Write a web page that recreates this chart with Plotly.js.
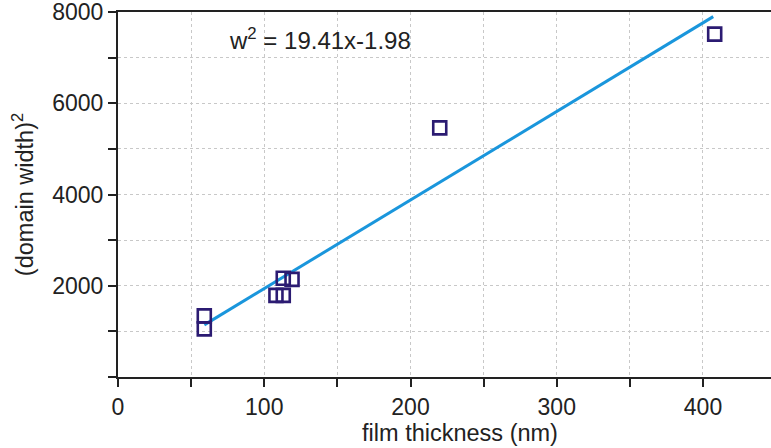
<!DOCTYPE html>
<html>
<head>
<meta charset="utf-8">
<script src="https://cdn.plot.ly/plotly-3.0.1.min.js"></script>
<style>
html,body{margin:0;padding:0;overflow:hidden;background:#fff;}
#chart{width:802px;height:448px;}
</style>
</head>
<body>
<div id="chart"></div>
<script>
// Data
const thickness = [59, 59, 108, 113, 113, 119, 220, 408];
const widthSq = [1340, 1055, 1790, 1790, 2165, 2140, 5460, 7515];
const fitX = [59, 407];
const fitY = [1143, 7898];
const xTickVals = [0, 100, 200, 300, 400];
const xTickText = ['0', '100', '200', '300', '400'];
const yTickVals = [0, 2000, 4000, 6000, 8000];
const yTickText = ['', '2000', '4000', '6000', '8000'];
const fitLabel = 'w<sup>2</sup> = 19.41x-1.98';

const font = 'Liberation Sans, Arial, sans-serif';
const textColor = '#222222';

const traces = [
  {
    x: fitX, y: fitY, type: 'scatter', mode: 'lines',
    line: {color: '#1a96dc', width: 3},
    hoverinfo: 'skip', showlegend: false
  },
  {
    x: thickness, y: widthSq, type: 'scatter', mode: 'markers',
    marker: {symbol: 'square-open', size: 13, color: '#2b1b72', line: {width: 2.6, color: '#2b1b72'}},
    showlegend: false
  }
];

const gridStyle = {gridcolor: '#c8c8c8', gridwidth: 1, griddash: 'dot'};

const layout = {
  width: 802, height: 448,
  margin: {l: 118, r: 0, t: 12, b: 71},
  paper_bgcolor: '#ffffff', plot_bgcolor: '#ffffff',
  font: {family: font, color: textColor, size: 23},
  showlegend: false,
  xaxis: Object.assign({
    range: [0, 467.7],
    tickmode: 'array', tickvals: xTickVals, ticktext: xTickText,
    ticks: 'outside', ticklen: 8, tickwidth: 2, tickcolor: '#222',
    showline: true, linecolor: '#222', linewidth: 2, mirror: true,
    showgrid: true, zeroline: false,
    ticklabeloverflow: 'allow',
    tickfont: {size: 23, color: textColor, family: font},
    minor: {dtick: 50, ticks: 'outside', ticklen: 8, tickwidth: 2, tickcolor: '#222', showgrid: true, gridcolor: '#c8c8c8', griddash: 'dot', gridwidth: 1},
    title: {text: 'film thickness (nm)', font: {size: 23.5, color: textColor, family: font}, standoff: 6}
  }, gridStyle),
  yaxis: Object.assign({
    range: [0, 8000],
    tickmode: 'array', tickvals: yTickVals, ticktext: yTickText,
    ticks: 'outside', ticklen: 8, tickwidth: 2, tickcolor: '#222',
    showline: true, linecolor: '#222', linewidth: 2, mirror: false,
    showgrid: true, zeroline: false,
    ticklabeloverflow: 'allow',
    tickfont: {size: 23, color: textColor, family: font},
    minor: {dtick: 1000, ticks: 'outside', ticklen: 8, tickwidth: 2, tickcolor: '#222', showgrid: true, gridcolor: '#c8c8c8', griddash: 'dot', gridwidth: 1},
    title: {text: '(domain width)<sup>2</sup>', font: {size: 23.5, color: textColor, family: font}, standoff: 12}
  }, gridStyle),
  annotations: [{
    x: 138, y: 7407, xref: 'x', yref: 'y',
    text: fitLabel, showarrow: false,
    font: {size: 24, color: textColor, family: font},
    xanchor: 'center', yanchor: 'middle'
  }]
};

Plotly.newPlot('chart', traces, layout, {displayModeBar: false, staticPlot: true});
</script>
</body>
</html>
